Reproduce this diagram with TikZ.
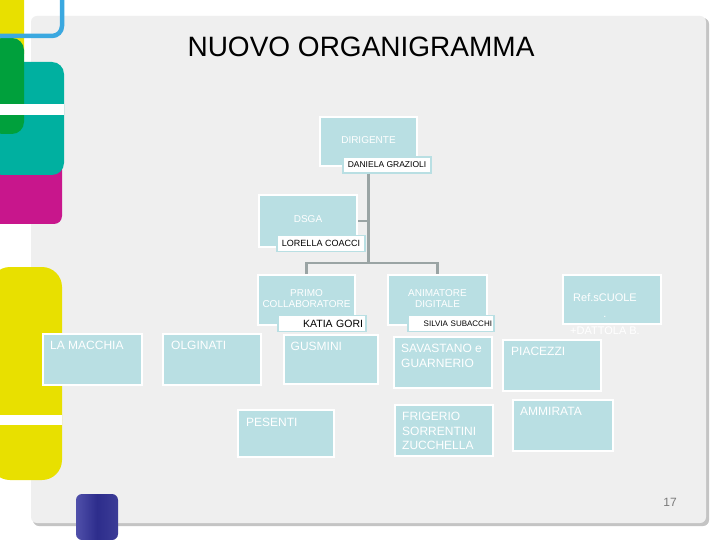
\documentclass[tikz,border=0pt]{standalone}
\usepackage{fontspec}
\setmainfont{Liberation Sans}
\usetikzlibrary{calc}
\definecolor{panel}{HTML}{EFEFEF}
\definecolor{pshadow}{HTML}{C4C4C4}
\definecolor{boxc}{HTML}{B9DFE3}
\definecolor{conn}{HTML}{9AA4A4}
\definecolor{myyellow}{HTML}{E8E000}
\definecolor{mygreen}{HTML}{00A03C}
\definecolor{myteal}{HTML}{00B0A0}
\definecolor{mymag}{HTML}{C8168C}
\definecolor{myblue}{HTML}{3AA8E0}
\definecolor{pnum}{HTML}{7A7A7A}
\tikzset{
  box/.style={fill=boxc, draw=white, line width=2pt, inner sep=0pt, text=white, font=\fontsize{10}{11.5}\selectfont, align=center},
  namebox/.style={fill=white, draw=boxc, line width=1.5pt, inner sep=0pt, minimum height=16pt, text=black},
  tl/.style={text=white, font=\fontsize{12}{14.5}\selectfont, align=left, inner sep=0pt, anchor=north west},
  conline/.style={draw=conn, line width=2.5pt},
}
\begin{document}
\begin{tikzpicture}[x=1pt,y=-1pt]
\useasboundingbox (0,0) rectangle (720,540);
\fill[white] (0,0) rectangle (720,540);
% panel
\fill[pshadow, rounded corners=6] (33,18) rectangle (709,526);
\fill[panel, rounded corners=6] (31,16) rectangle (706,523);
% left decorations
\fill[myyellow, rounded corners=6] (-10,-10) rectangle (24,60);
\fill[mymag, rounded corners=8] (-10,150) rectangle (62,224);
\fill[myteal, rounded corners=12] (-10,62) rectangle (64,175);
\fill[mygreen, rounded corners=12] (-10,38) rectangle (24,134);
\fill[white] (-5,104) rectangle (64,115);
\draw[myblue, line width=4.5pt, rounded corners=10] (62,-5) -- (62,36) -- (-5,36);
\fill[myyellow, rounded corners=20] (-10,267) rectangle (62,440);
\fill[myyellow, rounded corners=20] (-10,400) rectangle (62,480);
\fill[white] (-5,415) rectangle (62,425);
\shade[left color={rgb,255:red,80;green,80;blue,170}, right color={rgb,255:red,60;green,60;blue,150}, middle color={rgb,255:red,45;green,45;blue,140}, rounded corners=6] (76,494) rectangle (118,540);
% title
\node[font=\fontsize{28}{30}\selectfont, inner sep=0pt] (title) at (361,47) {NUOVO ORGANIGRAMMA};
% nodes
\node[box, minimum width=97pt, minimum height=49pt] (dir) at (368.5,141.5) {\raisebox{3pt}{DIRIGENTE}};
\node[namebox, minimum width=88pt, font=\fontsize{8.5}{10}\selectfont] (dirlab) at (387,165) {DANIELA GRAZIOLI};
\node[box, minimum width=98pt, minimum height=52pt] (dsga) at (308,221) {\raisebox{3pt}{DSGA}};
\node[namebox, minimum width=88pt, font=\fontsize{9}{10}\selectfont] (dsgalab) at (321,243.5) {LORELLA COACCI};
\node[box, minimum width=97pt, minimum height=50pt] (primo) at (306.5,300) {\raisebox{3pt}{\shortstack{PRIMO\\COLLABORATORE}}};
\node[box, minimum width=99pt, minimum height=50pt] (anim) at (437.5,300) {\raisebox{3pt}{\shortstack{ANIMATORE\\DIGITALE}}};
\node[box, minimum width=98pt, minimum height=49pt] (ref) at (612,299.5) {};
\node[text=white, font=\fontsize{11}{16.5}\selectfont, align=center, inner sep=0pt, anchor=north] (reftxt) at (605,293) {Ref.sCUOLE\\.\\+DATTOLA B.};
\node[namebox, minimum width=88pt, font=\fontsize{10.5}{12}\selectfont, align=right, text width=82pt] (katia) at (322,323.5) {KATIA GORI};
\node[namebox, minimum width=86pt, font=\fontsize{8}{10}\selectfont, align=right, text width=82pt] (silvia) at (451,323.5) {SILVIA SUBACCHI};
\node[box, minimum width=99pt, minimum height=51pt] (lam) at (92.5,359.5) {};
\node[box, minimum width=98pt, minimum height=51pt] (olg) at (212,359.5) {};
\node[box, minimum width=94pt, minimum height=49pt] (gus) at (330.5,359) {};
\node[box, minimum width=96pt, minimum height=47pt] (pes) at (286,433.5) {};
\node[box, minimum width=98pt, minimum height=51pt] (sav) at (443,362.5) {};
\node[box, minimum width=98pt, minimum height=51pt] (fri) at (444,430.5) {};
\node[box, minimum width=98pt, minimum height=51pt] (piac) at (552,365.5) {};
\node[box, minimum width=100pt, minimum height=51pt] (amm) at (563,425.5) {};
% box texts
\node[tl] at ($(lam.north west)+(8,8)$) {LA MACCHIA};
\node[tl] at ($(olg.north west)+(9,8)$) {OLGINATI};
\node[tl] at ($(gus.north west)+(8,8)$) {GUSMINI};
\node[tl] at ($(pes.north west)+(9,9)$) {PESENTI};
\node[tl] at ($(sav.north west)+(8,8)$) {SAVASTANO e\\GUARNERIO};
\node[tl] at ($(fri.north west)+(8,8)$) {FRIGERIO\\SORRENTINI\\ZUCCHELLA};
\node[tl] at ($(piac.north west)+(9,8)$) {PIACEZZI};
\node[tl] at ($(amm.north west)+(8,8)$) {AMMIRATA};
% connectors
\coordinate (bar) at (368,263);
\draw[conline] (dir.south |- dirlab.south) -- (dir.south |- bar);
\draw[conline] (dsga.east) -- (dsga.east -| dir.south);
\draw[conline] (primo.north) -- (primo.north |- bar) -- (anim.north |- bar) -- (anim.north);
% page number
\node[text=pnum, font=\fontsize{12}{14}\selectfont, inner sep=0pt] (pg) at (670,502) {17};
\end{tikzpicture}
\end{document}
